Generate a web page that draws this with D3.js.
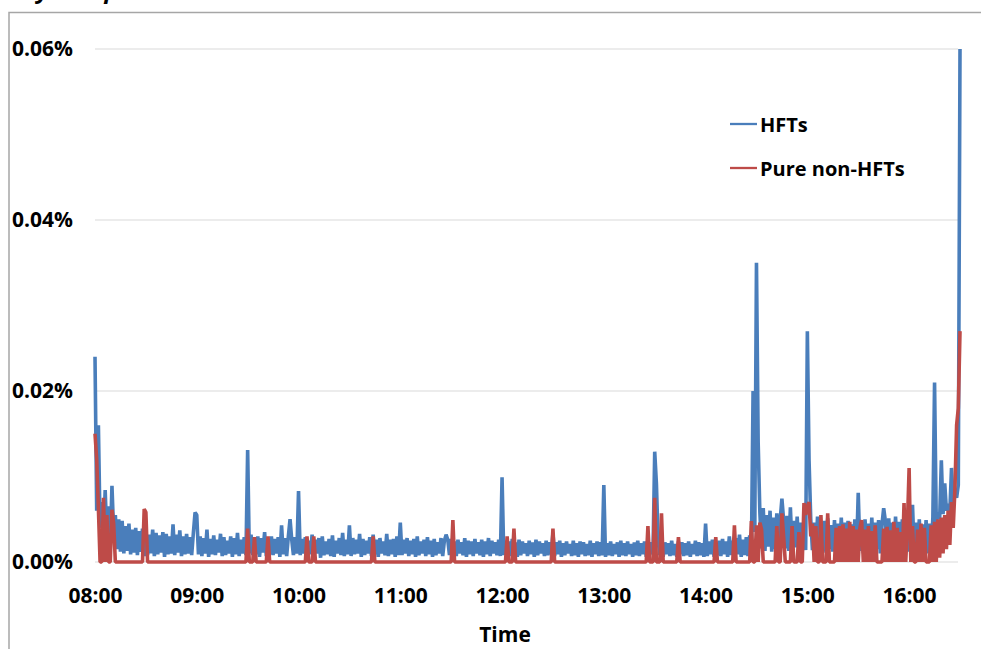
<!DOCTYPE html>
<html>
<head>
<meta charset="utf-8">
<script src="https://cdn.jsdelivr.net/npm/d3@7"></script>
<style>
  body { margin: 0; background: #fff; }
  svg { display: block; font-family: "Open Sans", sans-serif; font-weight: 700; }
</style>
</head>
<body>
<div class="canvas"></div>
<script>
// x ticks (hh:mm) and y ticks (percent)
const hourTicks = ['08:00', '09:00', '10:00', '11:00', '12:00', '13:00', '14:00', '15:00', '16:00'];
const yTicks = [0, 0.02, 0.04, 0.06];
const sessionStart = '08:00';
const sessionEnd = '16:30';
const seriesNames = ['HFTs', 'Pure non-HFTs'];

// one value per minute, 08:00 -> 16:30, in thousandths of a percent (1 = 0.001%)
const hftValues = [
  24.0,6.0,16.0,4.0,7.0,2.5,8.4,3.0,6.5,2.0,8.9,3.5,5.5,1.5,5.0,1.2,4.8,1.0,4.2,1.3,4.5,0.9,3.8,1.1,4.0,0.8,3.6,1.2,3.9,0.7,
  3.6,0.8,3.2,1.0,3.8,0.7,3.4,0.9,3.1,1.1,3.5,0.6,3.3,0.9,3.0,1.0,4.4,0.8,3.2,1.1,3.7,0.7,3.0,0.9,3.3,1.0,2.9,0.8,3.4,5.8,
  5.5,0.9,3.0,0.7,2.8,1.0,3.8,0.6,2.7,0.9,3.1,0.8,2.6,1.1,3.3,0.7,2.9,0.8,2.5,1.0,3.0,0.6,2.8,0.9,3.4,0.7,2.6,1.0,2.9,0.8,
  13.1,1.0,3.2,0.8,2.7,0.9,3.0,0.6,2.8,1.1,3.5,0.7,2.6,0.9,3.0,0.8,2.7,1.0,2.9,0.6,4.3,0.9,2.8,0.7,3.0,5.0,2.6,0.8,2.9,1.0,
  8.3,0.8,2.7,1.0,2.9,0.6,2.5,0.9,3.2,0.7,2.6,1.0,2.8,0.5,3.0,0.8,2.4,0.9,2.7,0.7,3.1,0.6,2.5,1.0,2.8,0.8,3.4,0.7,2.6,0.9,
  4.3,0.7,2.8,0.9,2.6,1.0,3.3,0.6,2.7,0.8,2.5,1.0,2.9,0.7,3.2,0.9,2.6,0.6,2.8,1.0,2.4,0.8,3.3,0.7,2.6,0.9,2.7,0.6,3.0,0.8,
  4.6,0.8,2.6,1.0,2.8,0.7,2.5,0.9,2.7,0.6,3.0,0.8,2.4,1.0,2.6,0.7,2.9,0.9,2.5,0.6,2.7,0.8,2.3,1.0,2.8,0.7,2.5,3.2,2.6,0.8,
  2.7,0.9,2.4,0.7,2.6,1.0,2.3,0.8,2.8,0.6,2.5,0.9,2.4,0.7,2.7,1.0,2.3,0.8,2.6,0.6,2.4,0.9,2.8,0.7,2.5,1.0,2.3,0.8,2.6,0.7,
  9.9,0.8,2.5,1.0,2.4,0.7,2.7,0.9,2.3,0.6,2.6,0.8,2.4,1.0,2.2,0.7,2.5,0.9,2.3,0.6,2.6,0.8,2.4,1.0,2.2,0.7,2.5,0.8,2.3,0.9,
  3.4,0.7,2.3,0.9,2.5,0.6,2.2,0.8,2.4,1.0,2.1,0.7,2.5,0.8,2.2,0.6,2.4,0.9,2.3,0.7,2.1,0.8,2.5,0.6,2.2,0.9,2.4,0.7,2.3,0.8,
  9.0,0.6,2.2,0.8,2.4,0.7,2.1,0.9,2.3,0.6,2.5,0.8,2.2,0.7,2.4,0.9,2.1,0.6,2.3,0.8,2.5,0.7,2.2,0.9,2.4,0.6,2.1,0.8,2.3,0.9,
  12.9,9.2,2.6,0.8,2.4,0.6,2.3,0.9,2.2,0.7,2.5,0.8,2.1,0.6,2.4,0.9,2.3,0.7,2.2,0.8,2.4,0.6,2.1,0.9,2.5,0.7,2.3,0.8,2.2,0.6,
  4.5,0.7,2.4,0.9,2.6,0.6,2.3,0.8,2.5,0.7,2.7,0.9,2.4,0.6,3.0,0.8,2.5,0.7,2.8,0.9,3.2,0.6,2.6,0.8,2.9,0.7,3.1,0.9,20.0,3.5,
  35.0,14.0,5.8,1.6,6.3,1.3,5.5,1.8,6.0,1.2,5.2,1.5,5.7,1.4,5.0,7.4,4.9,1.6,5.4,1.3,6.4,1.5,4.8,1.7,5.3,1.2,4.6,1.5,5.0,1.4,
  27.0,11.9,5.0,1.4,4.6,1.2,5.3,1.0,4.4,1.3,4.8,1.1,5.1,1.5,4.3,1.2,4.9,1.0,4.5,1.3,5.2,1.4,4.6,1.1,4.8,1.0,4.4,1.3,5.0,1.2,
  8.1,1.3,4.7,1.0,5.0,1.4,4.5,1.2,5.2,1.1,4.6,1.5,4.9,1.0,4.4,6.3,4.8,1.3,5.1,1.2,4.6,1.0,5.3,1.4,4.7,1.1,5.0,1.3,4.5,1.2,
  4.8,1.2,6.7,1.0,4.6,1.3,5.0,1.1,4.4,1.4,4.9,1.0,4.5,1.3,5.2,21.0,4.7,5.8,5.0,11.9,5.6,9.2,6.0,6.8,5.9,11.0,7.0,8.2,7.5,9.0,
  60.0
];

const nonHftValues = [
  15.0,12.0,6.3,0,0,7.5,0,5.5,0,0,6.1,4.5,0,0,0,0,0,0,0,0,0,0,0,0,0,0,0,0,0,6.2,
  5.8,0,0,0,0,0,0,0,0,0,0,0,0,0,0,0,0,0,0,0,0,0,0,0,0,0,0,0,0,0,
  0,0,0,0,0,0,0,0,0,0,0,0,0,0,0,0,0,0,0,0,0,0,0,0,0,0,0,0,0,0,
  3.9,0,0,0,2.9,0,0,0,0,0,0,0,3.0,0,0,0,0,0,0,0,0,0,0,0,0,0,0,0,0,0,
  0,0,0,0,0,3.0,0,0,0,3.0,0,0,0,0,0,0,0,0,0,0,0,0,0,0,0,0,0,0,0,0,
  0,0,0,0,0,0,0,0,0,0,0,0,0,0,3.0,0,0,0,0,0,0,0,0,0,0,0,0,0,0,0,
  0,0,0,0,0,0,0,0,0,0,0,0,0,0,0,0,0,0,0,0,0,0,0,0,0,0,0,0,0,0,
  0,4.9,0,0,0,0,0,0,0,0,0,0,0,0,0,0,0,0,0,0,0,0,0,0,0,0,0,0,0,0,
  0,0,0,3.0,0,0,0,3.9,0,0,0,0,0,0,0,0,0,0,0,0,0,0,0,0,0,0,0,0,0,0,
  3.9,0,0,0,0,0,0,0,0,0,0,0,0,0,0,0,0,0,0,0,0,0,0,0,0,0,0,0,0,0,
  0,0,0,0,0,0,0,0,0,0,0,0,0,0,0,0,0,0,0,0,0,0,0,0,0,0,4.2,0,0,0,
  7.5,0,0,0,5.7,0,0,0,0,0,0,0,0,0,2.9,0,0,0,0,0,0,0,0,0,0,0,0,0,0,0,
  0,0,0,0,0,0,2.9,0,0,0,0,0,0,0,0,0,0,4.3,0,0,0,0,0,0,0,0,0,4.8,0,0,
  4.3,0,4.6,3.8,0,0,0,0,0,0,0,0,4.2,0,0,5.7,3.0,0,0,0,0,4.2,0,0,0,3.5,0,0,6.9,5.5,
  6.5,7.0,3.0,4.5,0,4.2,0,0,5.5,0,0,0,5.7,0,0,0,0,4.0,0,4.2,0,4.4,0,3.9,0,4.7,0,4.2,0,3.8,
  0,4.0,4.9,0,3.8,0,4.2,0,3.6,0,4.3,0,0,0,0,3.9,0,4.1,0,3.7,0,4.7,0,4.0,0,3.5,0,6.9,0,4.4,
  11.0,0,4.2,0,0,3.8,0,4.5,0,4.0,0,0,0,4.3,0,4.7,0,5.0,0.5,5.2,1.0,5.5,1.5,6.0,2.0,7.0,4.0,8.5,16.0,18.0,
  27.0
];

const colors = ['#4a7ebb', '#be4b48'];

const width = 981;
const height = 649;
const margin = { top: 49, right: 21, bottom: 87, left: 95 };
const graphWidth = width - margin.left - margin.right;
const graphHeight = height - margin.top - margin.bottom;

const svg = d3.select('.canvas')
  .append('svg')
  .attr('width', width)
  .attr('height', height);

// frame of the pasted chart, cut at the top
svg.append('path')
  .attr('d', `M9,${height} V12.5 H${width}`)
  .attr('fill', 'none')
  .attr('stroke', '#a6a6a6')
  .attr('stroke-width', 1.5);

// title, almost all of it above the crop
svg.append('text')
  .attr('x', -54)
  .attr('y', -2)
  .attr('font-size', 24)
  .attr('font-style', 'italic')
  .text('Volatility and price');

const graph = svg.append('g')
  .attr('transform', `translate(${margin.left}, ${margin.top})`);

// scales
const parseTime = d3.timeParse('%H:%M');
const times = d3.timeMinute.range(parseTime(sessionStart), d3.timeMinute.offset(parseTime(sessionEnd), 1));

const x = d3.scaleTime()
  .domain([parseTime(sessionStart), parseTime(sessionEnd)])
  .range([0, graphWidth]);

const y = d3.scaleLinear()
  .domain([0, 0.06])
  .range([graphHeight, 0]);

// gridlines
graph.append('g')
  .selectAll('line')
  .data(yTicks)
  .join('line')
  .attr('x1', 0)
  .attr('x2', graphWidth - 2)
  .attr('y1', d => y(d))
  .attr('y2', d => y(d))
  .attr('stroke', '#d9d9d9')
  .attr('stroke-width', 1.2);

// series lines
const line = d3.line()
  .x((d, i) => x(times[i]))
  .y(d => y(d / 1000));

graph.selectAll('path.series')
  .data([hftValues, nonHftValues])
  .join('path')
  .attr('class', 'series')
  .attr('d', line)
  .attr('fill', 'none')
  .attr('stroke', (d, i) => colors[i])
  .attr('stroke-width', 3.6)
  .attr('stroke-linejoin', 'bevel');

// axes
const xAxis = d3.axisBottom(x)
  .tickValues(hourTicks.map(parseTime))
  .tickFormat(d3.timeFormat('%H:%M'))
  .tickSize(0)
  .tickPadding(26);

const xAxisGroup = graph.append('g')
  .attr('transform', `translate(0, ${graphHeight})`)
  .call(xAxis);
xAxisGroup.select('.domain').remove();
xAxisGroup.selectAll('text')
  .attr('font-size', 21)
  .attr('font-family', '"Open Sans", sans-serif')
  .attr('font-weight', 700)
  .attr('fill', '#000');

const yAxisGroup = graph.append('g')
  .call(d3.axisLeft(y).tickValues(yTicks).tickFormat(d => d.toFixed(2) + '%').tickSize(0).tickPadding(22));
yAxisGroup.select('.domain').remove();
yAxisGroup.selectAll('text')
  .attr('font-size', 21)
  .attr('font-family', '"Open Sans", sans-serif')
  .attr('font-weight', 700)
  .attr('fill', '#000');

// axis title
svg.append('text')
  .attr('x', 505)
  .attr('y', 642)
  .attr('text-anchor', 'middle')
  .attr('font-size', 21)
  .text('Time');

// legend
const legend = svg.append('g')
  .attr('transform', 'translate(730, 124)');

const items = legend.selectAll('g')
  .data(seriesNames)
  .join('g')
  .attr('transform', (d, i) => `translate(0, ${i * 44})`);

items.append('line')
  .attr('x1', 0)
  .attr('x2', 27)
  .attr('stroke', (d, i) => colors[i])
  .attr('stroke-width', 2.3);

items.append('text')
  .attr('x', 30)
  .attr('y', 8)
  .attr('font-size', 20)
  .text(d => d);
</script>
</body>
</html>
